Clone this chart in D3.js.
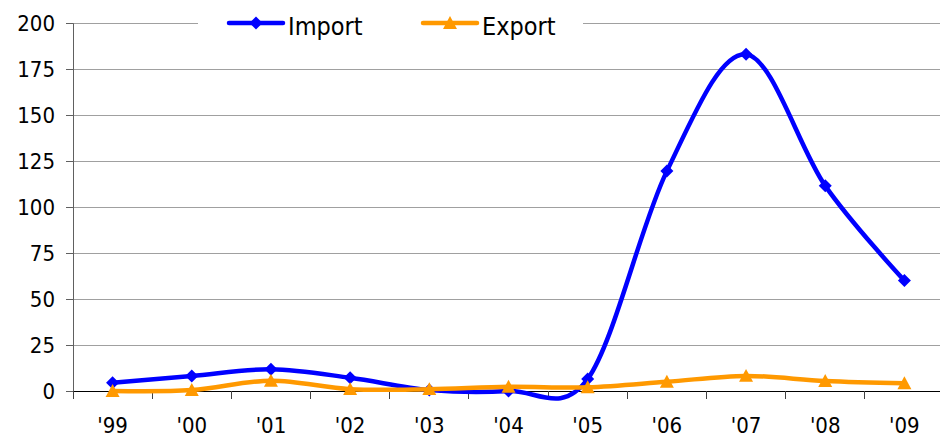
<!DOCTYPE html>
<html><head><meta charset="utf-8">
<script src="https://cdn.jsdelivr.net/npm/d3@7"></script>
<style>body{margin:0;background:#fff}svg{display:block}</style>
</head><body><svg id="c" width="940" height="438"></svg>
<script>
const categories = ["'99","'00","'01","'02","'03","'04","'05","'06","'07","'08","'09"];
const importValues = [4.5, 8.2, 11.8, 7.2, 0.5, 0, 6.5, 119.5, 183, 111.5, 60];
const exportValues = [0, 0.5, 5.6, 1, 1, 2.3, 2, 5, 8.2, 5.4, 4.2];
const yTicks = [0, 25, 50, 75, 100, 125, 150, 175, 200];
const seriesNames = ["Import", "Export"];
const colors = ["#0000FF", "#FF9900"];

const svg = d3.select("#c");
const mLeft = 73, mRight = 944, mTop = 23, mBottom = 391;
const font = "'DejaVu Sans Condensed','DejaVu Sans',sans-serif";

const x = d3.scaleBand().domain(categories).range([mLeft, mRight]);
const y = d3.scaleLinear().domain([0, 200]).range([mBottom, mTop]);

// gridlines
svg.append("g").selectAll("line").data(yTicks.filter(d => d > 0)).join("line")
  .attr("x1", mLeft).attr("x2", 940).attr("y1", d => y(d)).attr("y2", d => y(d))
  .attr("stroke", "#a0a0a0").attr("stroke-width", 1).attr("shape-rendering", "crispEdges");

// y axis
const yAxis = svg.append("g").attr("transform", `translate(${mLeft},0)`)
  .call(d3.axisLeft(y).tickValues(yTicks).tickSize(7).tickPadding(11));
yAxis.select(".domain").attr("stroke", "#606060");
yAxis.selectAll(".tick line").attr("stroke", "#606060");
yAxis.selectAll("text").attr("font-family", font).attr("font-size", 22).attr("fill", "#000");

// x axis
const xAxis = svg.append("g").attr("transform", `translate(0,${mBottom})`)
  .call(d3.axisBottom(x).tickSize(0).tickPadding(26));
xAxis.select(".domain").remove();
xAxis.selectAll("text").attr("font-family", font).attr("font-size", 22).attr("fill", "#000");
svg.append("line").attr("x1", mLeft).attr("x2", 940).attr("y1", mBottom).attr("y2", mBottom)
  .attr("stroke", "#000").attr("shape-rendering", "crispEdges");
svg.append("g").selectAll("line").data(categories).join("line")
  .attr("x1", d => x(d)).attr("x2", d => x(d)).attr("y1", mBottom).attr("y2", mBottom + 8)
  .attr("stroke", "#404040").attr("shape-rendering", "crispEdges");

// legend background
svg.append("rect").attr("x", 198).attr("y", 4).attr("width", 385).attr("height", 40).attr("fill", "#fff");

const line = d3.line().x((d, i) => x(categories[i]) + x.bandwidth() / 2).y(d => y(d))
  .curve(d3.curveCardinal.tension(0));

const diamondType = { draw(ctx, size) { const r = Math.sqrt(size) / 2;
  ctx.moveTo(0, -r); ctx.lineTo(r, 0); ctx.lineTo(0, r); ctx.lineTo(-r, 0); ctx.closePath(); } };
const triangleType = { draw(ctx, size) { const r = Math.sqrt(size) / 2;
  ctx.moveTo(0, -r); ctx.lineTo(r, r * 0.85); ctx.lineTo(-r, r * 0.85); ctx.closePath(); } };
const diamond = d3.symbol().type(diamondType).size(169);
const triangle = d3.symbol().type(triangleType).size(196);

[importValues, exportValues].forEach((vals, k) => {
  svg.append("path").datum(vals).attr("d", line).attr("fill", "none")
    .attr("stroke", colors[k]).attr("stroke-width", 4.5).attr("stroke-linejoin", "round");
  svg.append("g").selectAll("path").data(vals).join("path")
    .attr("transform", (d, i) => `translate(${x(categories[i]) + x.bandwidth() / 2},${y(d)})`)
    .attr("d", k === 0 ? diamond : triangle).attr("fill", colors[k]);
});

// legend
const legX = [229, 423];
seriesNames.forEach((name, k) => {
  const g = svg.append("g");
  g.append("line").attr("x1", legX[k]).attr("x2", legX[k] + 54).attr("y1", 23).attr("y2", 23)
    .attr("stroke", colors[k]).attr("stroke-width", 4.5).attr("stroke-linecap", "round");
  g.append("path").attr("transform", `translate(${legX[k] + 27},23)`)
    .attr("d", k === 0 ? diamond : triangle).attr("fill", colors[k]);
  g.append("text").attr("x", legX[k] + 59).attr("y", 35).text(name)
    .attr("font-family", font).attr("font-size", 25).attr("fill", "#000");
});
</script></body></html>
